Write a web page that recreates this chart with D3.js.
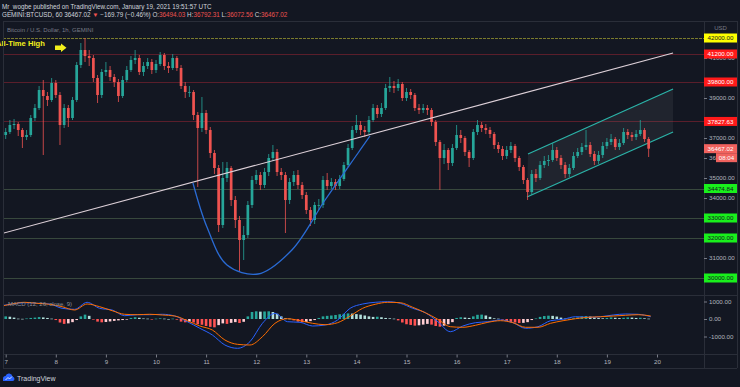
<!DOCTYPE html>
<html>
<head>
<meta charset="utf-8">
<script src="https://cdnjs.cloudflare.com/ajax/libs/d3/7.8.5/d3.min.js"></script>
<style>
  html, body { margin: 0; padding: 0; background: #131722; }
  svg { display: block; font-family: "Liberation Sans", Arial, sans-serif; }
</style>
</head>
<body>
<svg></svg>
<script>
// 2h candles starting Jan 6 22:00 UTC
const closes = [37150,37300,37650,37700,37400,37050,37150,38000,38500,39400,
  39100,38900,39750,39150,37650,38500,38000,38900,40650,41400,
  41100,41000,40000,39150,40300,40400,40050,39800,39100,39900,
  40400,40900,41000,40300,40600,40800,40400,40700,41150,40600,
  40500,41000,40500,39600,39300,39300,38150,37500,38250,37400,
  36250,35500,32650,35000,35500,33900,32900,31900,32150,33650,
  34900,35150,34650,35300,36000,36300,35300,35150,33900,34800,
  35150,34650,34150,33400,32900,33650,33650,34900,34600,34800,
  34600,34950,35650,36500,37400,37650,37400,37300,37900,38500,
  38200,38500,39500,39600,39500,39700,39000,39300,39150,38500,
  38400,38500,38400,37800,36800,36000,36400,35750,36500,37150,
  37000,36300,36000,37300,37650,37500,37400,37200,36650,36450,
  36100,36400,36600,36000,35550,34900,34300,35200,35000,35650,
  35850,35900,36400,36000,35650,35200,35500,36100,36300,36550,
  36650,36200,35850,36150,36600,36800,36950,36550,36750,37300,
  37150,37050,37200,37400,36950,36467.02];
const highs = [37350,37500,37900,37950,37800,37500,37400,38150,38700,39600,
  39900,39300,40000,39900,39300,38700,38650,39050,40800,41750,
  42000,41400,41150,40150,40450,40800,40600,40200,39950,40100,
  40600,41100,41400,41150,40800,41000,40950,40900,41300,41250,
  40800,41200,41100,40650,39800,39600,39400,38300,39050,38400,
  37550,36400,35650,35800,35800,35600,34100,33100,32600,33850,
  35100,35400,35300,35500,36200,36650,36450,35500,35300,35000,
  35350,35400,34800,34300,33550,33800,33950,35100,35250,35000,
  34950,35150,35800,36700,37600,38150,37850,37600,38100,38700,
  38650,38750,39700,40050,39850,39950,39800,39500,39450,39250,
  38700,38700,38650,38500,37900,36900,36700,36500,36700,37650,
  37400,37100,36400,37450,37900,37800,37700,37550,37300,36800,
  36600,36600,36800,36700,36100,35650,35000,35400,35450,35850,
  36100,36150,36750,36550,36150,35800,35700,36300,36500,36750,
  37400,36800,36350,36350,36800,37000,37200,37050,36950,37500,
  37450,37300,37400,37900,37500,37050];
const lows = [36850,36950,37200,37450,37100,36500,36900,37050,37850,38400,
  36150,38600,38800,39000,36650,37500,37550,37900,38800,40500,
  40800,40600,39800,38750,39000,40100,39850,39550,38800,39000,
  39800,40300,40700,40150,40100,40450,40200,40250,40600,40400,
  40250,40400,40350,39450,39000,39050,37900,34550,37300,37200,
  36000,35200,32300,32500,34800,33600,32500,30300,30900,32000,
  33500,34700,34400,34500,35100,35850,35100,34900,32250,33700,
  34600,34450,33950,33200,32600,32700,33400,33500,34400,34450,
  34400,34450,34850,35550,36400,37250,37150,37050,37200,37800,
  38000,38050,38400,39300,39250,39350,38850,38850,38950,38350,
  38200,38250,38150,37600,36600,34400,35700,35400,35600,36400,
  36750,36100,35550,35900,37150,37300,37200,37000,36450,36250,
  35900,35950,36250,35800,35350,34700,33900,34150,34800,34900,
  35500,35600,35800,35850,35450,35000,35050,35400,36000,36150,
  36400,36050,35650,35700,36000,36450,36650,36400,36400,36650,
  36950,36850,36900,37100,36800,36050];
const firstOpen = 37000;

// MACD histogram, same 2h steps as the candles
const histogram = [120,150,130,80,20,10,30,60,80,110,
  90,60,20,-60,-200,-280,-250,-180,-60,150,
  250,180,-30,-150,-190,-170,-140,-110,-80,-60,
  -20,60,100,70,30,20,-20,20,40,20,
  0,20,-40,-150,-190,-150,-200,-300,-330,-400,
  -450,-475,-350,-250,-280,-220,-180,-230,-160,150,
  400,440,420,430,440,400,300,150,40,20,
  -80,-150,-190,-170,-120,-60,60,150,180,200,
  230,270,300,320,310,280,250,200,150,120,
  130,100,60,40,20,-80,-200,-300,-340,-380,
  -360,-320,-280,-320,-400,-440,-380,-300,-180,60,
  100,80,60,150,240,250,200,120,40,20,
  -30,-120,-180,-200,-230,-220,-180,-60,30,120,
  170,190,180,140,80,20,10,40,90,150,
  170,140,90,60,40,60,90,70,50,70,
  90,80,60,70,40,20];

// MACD and signal lines, 6h steps starting Jan 6 21:00 UTC
const macdLine = [743,857,931,897,857,611,554,954,611,514,189,246,246,269,171,-154,-531,-914,
  -1486,-1674,-1297,-246,324,-154,-189,-400,-343,-57,611,857,954,989,897,611,360,-154,-726,
  -400,-211,-154,-57,-211,-531,-440,-97,-17,131,97,131,229,286,269,131];
const signalLine = [703,857,954,897,840,703,514,857,703,474,269,246,269,229,171,-97,-400,-629,
  -1200,-1446,-1486,-1011,-246,17,-97,-246,-326,-211,171,611,840,954,931,669,360,-17,-440,
  -474,-360,-189,-97,-211,-474,-474,-246,-97,17,97,131,171,211,246,171];

const dayTicks = [7,8,9,10,11,12,13,14,15,16,17,18,19,20];
// 38000 and 40000 sit fully under the red tags, so they are left out
const priceTicks = [30000,31000,32000,33000,34000,35000,36000,37000,39000,41000,42000];
const macdTicks = [-1000, 0, 1000];

const athLevel = 42000;
const redLevels = [41200, 39800, 37827.63];
const greenLevels = [34474.84, 33000, 32000, 30000];
const lastPrice = 36467.02;
const countdown = "08:04";

// drawings: [hours since Jan 7 00:00 UTC, price]
const trendLine = [[-2.7, 32200], [319.7, 41250]];
const cupCurve = [[89.7, 34750], [96.4, 32550], [106, 30650], [120.9, 30200], [137.1, 31400], [153, 33900], [168.8, 36250], [174.5, 37100]];
const channelUpper = [[250.2, 36200], [319.7, 39450]];
const channelLower = [[249.7, 34050], [319.7, 37300]];

const width = 740;
const height = 387;
const paneLeft = 3, paneRight = 704, axisEnd = 737;
const paneTop = 21, paneBottom = 295, macdBottom = 354, timeBottom = 368;

const hour = 3600 * 1000;
const t0 = Date.UTC(2021, 0, 7);
const atHour = (h) => new Date(t0 + h * hour);

let xScale, yScale, mScale;

const svg = d3.select("svg");

const drawCanvas = () => {
    svg.attr("width", width).attr("height", height);
    svg.append("rect").attr("width", width).attr("height", height).attr("fill", "#131722");

    const defs = svg.append("defs");
    defs.append("clipPath").attr("id", "main-clip").append("rect")
        .attr("x", paneLeft).attr("y", paneTop).attr("width", paneRight - paneLeft).attr("height", paneBottom - paneTop);
    defs.append("clipPath").attr("id", "macd-clip").append("rect")
        .attr("x", paneLeft).attr("y", paneBottom).attr("width", paneRight - paneLeft).attr("height", macdBottom - paneBottom);
};

const generateScales = () => {
    xScale = d3.scaleUtc()
        .domain([atHour(0), atHour(13 * 24)])
        .range([5.7, 657]);
    yScale = d3.scaleLinear()
        .domain([30000, 42000])
        .range([278, 38]);
    mScale = d3.scaleLinear()
        .domain([-1000, 1000])
        .range([336.5, 301.5]);
};

const drawFrame = () => {
    const g = svg.append("g").attr("stroke", "#2a2e39").attr("stroke-width", 1);
    [paneTop, paneBottom, macdBottom, timeBottom].forEach(y => {
        g.append("line").attr("x1", paneLeft).attr("x2", axisEnd).attr("y1", y + 0.5).attr("y2", y + 0.5);
    });
    [paneLeft, paneRight, axisEnd].forEach(x => {
        g.append("line").attr("x1", x + 0.5).attr("x2", x + 0.5).attr("y1", paneTop).attr("y2", timeBottom);
    });
};

//Horizontal support / resistance levels
const drawLevels = () => {
    const g = svg.append("g").attr("clip-path", "url(#main-clip)");
    const hline = (v, color, dash) => g.append("line")
        .attr("x1", paneLeft).attr("x2", paneRight)
        .attr("y1", Math.round(yScale(v)) + 0.5).attr("y2", Math.round(yScale(v)) + 0.5)
        .attr("stroke", color).attr("stroke-width", 1)
        .attr("stroke-dasharray", dash);
    hline(athLevel, "#7a7a2c", "3,1");
    redLevels.forEach(v => hline(v, "#5a1e2b", null));
    greenLevels.forEach(v => hline(v, "#38483d", null));
};

const drawChannel = () => {
    const g = svg.append("g").attr("clip-path", "url(#main-clip)");
    const pt = (d) => [xScale(atHour(d[0])), yScale(d[1])];
    const poly = [pt(channelUpper[0]), pt(channelUpper[1]), pt(channelLower[1]), pt(channelLower[0])];
    g.append("polygon")
        .attr("points", poly.map(p => p.join(",")).join(" "))
        .attr("fill", "rgba(120,123,134,0.13)");
    [channelUpper, channelLower].forEach(line => {
        g.append("line")
            .attr("x1", pt(line[0])[0]).attr("y1", pt(line[0])[1])
            .attr("x2", pt(line[1])[0]).attr("y2", pt(line[1])[1])
            .attr("stroke", "#2bb3a8").attr("stroke-width", 1.3);
    });
};

//Each candle = open (previous close), high, low, close
const drawCandles = () => {
    const candles = closes.map((c, i) => ({
        time: atHour(-2 + 2 * i),
        open: i === 0 ? firstOpen : closes[i - 1],
        close: c,
        high: highs[i],
        low: lows[i]
    }));
    const bodyW = 2.7;
    const g = svg.append("g").attr("clip-path", "url(#main-clip)");
    const candle = g.selectAll("g.candle")
        .data(candles)
        .enter()
        .append("g")
        .attr("class", "candle")
        .attr("fill", d => d.close >= d.open ? "#26a69a" : "#ef5350")
        .attr("stroke", d => d.close >= d.open ? "#26a69a" : "#ef5350");
    candle.append("line")
        .attr("x1", d => xScale(d.time)).attr("x2", d => xScale(d.time))
        .attr("y1", d => yScale(d.high)).attr("y2", d => yScale(d.low))
        .attr("stroke-width", 0.8);
    candle.append("rect")
        .attr("x", d => xScale(d.time) - bodyW / 2)
        .attr("width", bodyW)
        .attr("y", d => yScale(Math.max(d.open, d.close)))
        .attr("height", d => Math.max(0.8, Math.abs(yScale(d.open) - yScale(d.close))))
        .attr("stroke", "none");
};

const drawDrawings = () => {
    const g = svg.append("g").attr("clip-path", "url(#main-clip)");
    const line = d3.line()
        .x(d => xScale(atHour(d[0])))
        .y(d => yScale(d[1]));
    g.append("path").attr("d", line(trendLine))
        .attr("fill", "none").attr("stroke", "#ddd0d8").attr("stroke-width", 1.1);
    g.append("path").attr("d", line.curve(d3.curveCatmullRom)(cupCurve))
        .attr("fill", "none").attr("stroke", "#2a6bd4").attr("stroke-width", 1.3);

    //All-Time High note with arrow (text runs off the left edge like the original)
    svg.append("text").attr("x", -4).attr("y", 46)
        .attr("fill", "#f2ef1c").attr("font-size", 7.6).attr("font-weight", "bold")
        .text("All-Time High");
    svg.append("path")
        .attr("d", "M55,45.6 L61,45.6 L61,43.6 L66.5,47.8 L61,52 L61,50 L55,50 Z")
        .attr("fill", "#f2ef1c");
};

const drawMacd = () => {
    const g = svg.append("g").attr("clip-path", "url(#macd-clip)");
    const barW = 2.6;
    g.selectAll("rect.hist")
        .data(histogram)
        .enter()
        .append("rect")
        .attr("class", "hist")
        .attr("x", (d, i) => xScale(atHour(-2 + 2 * i)) - barW / 2)
        .attr("width", barW)
        .attr("y", d => Math.min(mScale(d), mScale(0)))
        .attr("height", d => Math.max(0.6, Math.abs(mScale(d) - mScale(0))))
        .attr("fill", (d, i) => {
            const prev = i === 0 ? d : histogram[i - 1];
            if (d >= 0) return d >= prev ? "#26a69a" : "#b2dfdb";
            return d <= prev ? "#ff5252" : "#ffcdd2";
        });

    const line = d3.line()
        .x((d, i) => xScale(atHour(-3 + 6 * i)))
        .y(d => mScale(d))
        .curve(d3.curveMonotoneX);
    g.append("path").attr("d", line(macdLine))
        .attr("fill", "none").attr("stroke", "#2962ff").attr("stroke-width", 1);
    g.append("path").attr("d", line(signalLine))
        .attr("fill", "none").attr("stroke", "#ff6d00").attr("stroke-width", 1);

    svg.append("text").attr("x", 8).attr("y", 306)
        .attr("fill", "#8a8d96").attr("font-size", 6)
        .text("MACD (12, 26, close, 9)");
};

const styleAxis = (g) => {
    g.select(".domain").remove();
    g.selectAll(".tick line").attr("stroke", "#787b86");
    g.selectAll(".tick text").attr("fill", "#b2b5be").attr("font-size", 6.2)
        .attr("font-family", "Liberation Sans, Arial, sans-serif");
};

const generateAxes = () => {
    const yAxis = d3.axisRight(yScale).tickValues(priceTicks).tickSize(3).tickPadding(2)
        .tickFormat(d3.format(".2f"));
    svg.append("g").attr("transform", "translate(" + paneRight + ",0)").call(yAxis).call(styleAxis);

    const mAxis = d3.axisRight(mScale).tickValues(macdTicks).tickSize(3).tickPadding(2)
        .tickFormat(d => d3.format(".2f")(d).replace("−", "-"));
    svg.append("g").attr("transform", "translate(" + paneRight + ",0)").call(mAxis).call(styleAxis);

    const xAxis = d3.axisBottom(xScale)
        .tickValues(dayTicks.map(d => new Date(Date.UTC(2021, 0, d))))
        .tickFormat(d3.utcFormat("%-d"))
        .tickSize(3).tickPadding(2);
    svg.append("g").attr("transform", "translate(0," + (macdBottom + 0.5) + ")").call(xAxis).call(styleAxis);

    svg.append("text").attr("x", 720.5).attr("y", 30).attr("text-anchor", "middle")
        .attr("fill", "#787b86").attr("font-size", 6).text("USD");
};

//Coloured price tags on the right scale
const drawPriceTags = () => {
    const g = svg.append("g");
    const tag = (v, bg, fg, label, x0) => {
        const y = yScale(v);
        g.append("rect").attr("x", x0).attr("y", y - 4.5).attr("width", axisEnd - x0).attr("height", 9).attr("fill", bg);
        g.append("text").attr("x", (x0 + axisEnd) / 2).attr("y", y + 2.2).attr("text-anchor", "middle")
            .attr("fill", fg).attr("font-size", 6.2).text(label);
    };
    tag(athLevel, "#ffff00", "#131722", d3.format(".2f")(athLevel), paneRight);
    redLevels.forEach(v => tag(v, "#ff1a1a", "#ffffff", d3.format(".2f")(v), paneRight));
    greenLevels.forEach(v => tag(v, "#19f01c", "#131722", d3.format(".2f")(v), paneRight));
    tag(lastPrice, "#f0625e", "#ffffff", d3.format(".2f")(lastPrice), paneRight);
    const yc = yScale(lastPrice) + 9;
    g.append("rect").attr("x", 716).attr("y", yc - 4.5).attr("width", axisEnd - 716).attr("height", 9).attr("fill", "#f0625e");
    g.append("text").attr("x", (716 + axisEnd) / 2).attr("y", yc + 2.2).attr("text-anchor", "middle")
        .attr("fill", "#ffffff").attr("font-size", 6.2).text(countdown);
};

const drawHeader = () => {
    svg.append("text").attr("x", 2).attr("y", 8.5).attr("fill", "#d1d4dc").attr("font-size", 6.3)
        .text("Mr_wogbe published on TradingView.com, January 19, 2021 19:51:57 UTC");
    const t = svg.append("text").attr("x", 2).attr("y", 17).attr("font-size", 6.3).attr("fill", "#d1d4dc");
    t.append("tspan").text("GEMINI:BTCUSD, 60  36467.02 ");
    t.append("tspan").attr("fill", "#ef5350").text("\u25BC");
    t.append("tspan").text(" \u2212169.79 (\u22120.46%) O:");
    t.append("tspan").attr("fill", "#ef5350").text("36494.03");
    t.append("tspan").text(" H:");
    t.append("tspan").attr("fill", "#ef5350").text("36792.31");
    t.append("tspan").text(" L:");
    t.append("tspan").attr("fill", "#ef5350").text("36072.56");
    t.append("tspan").text(" C:");
    t.append("tspan").attr("fill", "#ef5350").text("36467.02");

    svg.append("text").attr("x", 7).attr("y", 31.5).attr("fill", "#787b86").attr("font-size", 6)
        .text("Bitcoin / U.S. Dollar, 1h, GEMINI");

    //TradingView logo
    svg.append("path")
        .attr("d", "M3,381 L3,378.5 Q3,376 5.5,376 Q6.5,373 9.5,373.5 Q12,374 12.5,376.5 Q14.5,377 14.5,379 Q14.5,381 12.5,381 Z")
        .attr("fill", "#2962ff");
    svg.append("path").attr("d", "M5.5,380 L8,377.5 L9.5,379 L12,376.5")
        .attr("fill", "none").attr("stroke", "#ffffff").attr("stroke-width", 0.8);
    svg.append("text").attr("x", 17).attr("y", 380.5).attr("fill", "#d1d4dc").attr("font-size", 7)
        .text("TradingView");
};

drawCanvas();
generateScales();
drawLevels();
drawChannel();
drawCandles();
drawDrawings();
drawMacd();
drawFrame();
generateAxes();
drawPriceTags();
drawHeader();
</script>
</body>
</html>
